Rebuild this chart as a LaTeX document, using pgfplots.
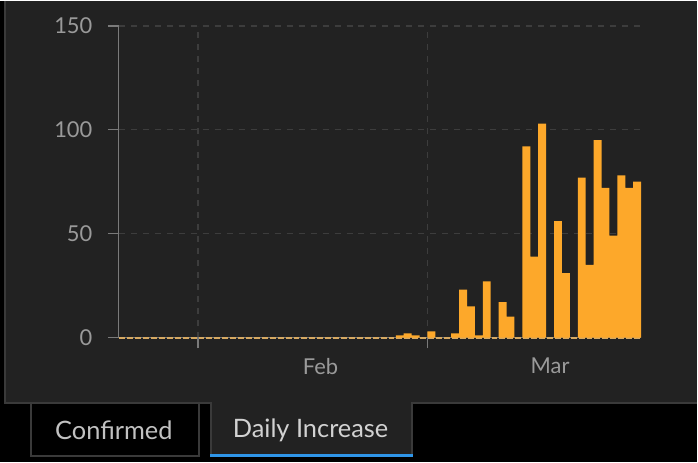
\documentclass[border=0pt]{standalone}
\usepackage{pgfplots}
\pgfplotsset{compat=1.18}
\usepackage{fontspec}
\setmainfont{Lato}
\definecolor{bg}{HTML}{222222}
\definecolor{bord}{HTML}{3A3A3A}
\definecolor{gridc}{HTML}{3D3D3D}
\definecolor{axisc}{HTML}{7A7A7A}
\definecolor{barc}{HTML}{FDA82A}
\definecolor{zeroc}{HTML}{D6A962}
\definecolor{tickc}{HTML}{9A9A9A}
\definecolor{tabtxt}{HTML}{D2D2D2}
\definecolor{blueline}{HTML}{2F95E8}
\begin{document}
\begin{tikzpicture}[x=1bp,y=1bp]
\fill[black] (0,0) rectangle (698,462);
\fill[bg] (5,59) rectangle (698,462);
\draw[bord, line width=2bp] (5,462) -- (5,59) -- (698,59);
% Confirmed tab
\fill[black] (31,6) rectangle (199,58);
\draw[bord, line width=2bp] (31,58) -- (31,6.5) -- (199,6.5) -- (199,58);
% Daily Increase tab
\fill[bg] (211,5) rectangle (413,60);
\draw[bord, line width=2bp] (211,8) -- (211,60);
\draw[bord, line width=2bp] (413,8) -- (413,60);
\fill[blueline] (210,5) rectangle (414,8.5);
\node[text=tabtxt!92!black, font=\fontsize{25.5}{28}\selectfont, inner sep=0pt] at (114,32) {Confirmed};
\node[text=tabtxt, font=\fontsize{25.5}{28}\selectfont, inner sep=0pt] at (311,32) {Daily Increase};
\begin{axis}[
  at={(119bp,125bp)}, anchor=south west,
  scale only axis, width=523bp, height=312bp,
  xmin=0, xmax=66, ymin=0, ymax=150,
  clip=false,
  axis x line*=bottom, axis y line*=left,
  axis line style={axisc, line width=1.3bp, -},
  x axis line style={draw=none},
  xtick={10,39}, xticklabels={},
  ytick={0,50,100,150},
  tick align=outside,
  major tick length=11bp,
  tick style={axisc, line width=1.3bp},
  grid=major,
  major grid style={gridc, line width=1.2bp, dash pattern=on 6bp off 6bp},
  /pgf/number format/assume math mode=true,
  yticklabel style={text=tickc, font=\fontsize{22}{24}\selectfont, xshift=-12bp},
  extra x ticks={25.5,54.5},
  extra x tick labels={Feb,Mar},
  extra x tick style={grid=none, major tick length=0pt, tick style={draw=none},
    xticklabel style={text=tickc, font=\fontsize{22}{24}\selectfont, yshift=-17bp}},
]
\addplot[axisc, line width=1.6bp] coordinates {(0,0) (66,0)};
\addplot[zeroc, line width=2bp, dash pattern=on 5.93bp off 2bp, dash phase=-0.5bp] coordinates {(0,0) (66,0)};
\addplot[ybar, bar width=1, bar shift=0pt, fill=barc, draw=none] coordinates {
(35.5,1) (36.5,2) (37.5,1) (39.5,3) (42.5,2) (43.5,23) (44.5,15) (45.5,1)
(46.5,27) (48.5,17) (49.5,10) (51.5,92) (52.5,39) (53.5,103) (55.5,56)
(56.5,31) (58.5,77) (59.5,35) (60.5,95) (61.5,72) (62.5,49) (63.5,78)
(64.5,72) (65.5,75)};
\end{axis}
\end{tikzpicture}
\end{document}
